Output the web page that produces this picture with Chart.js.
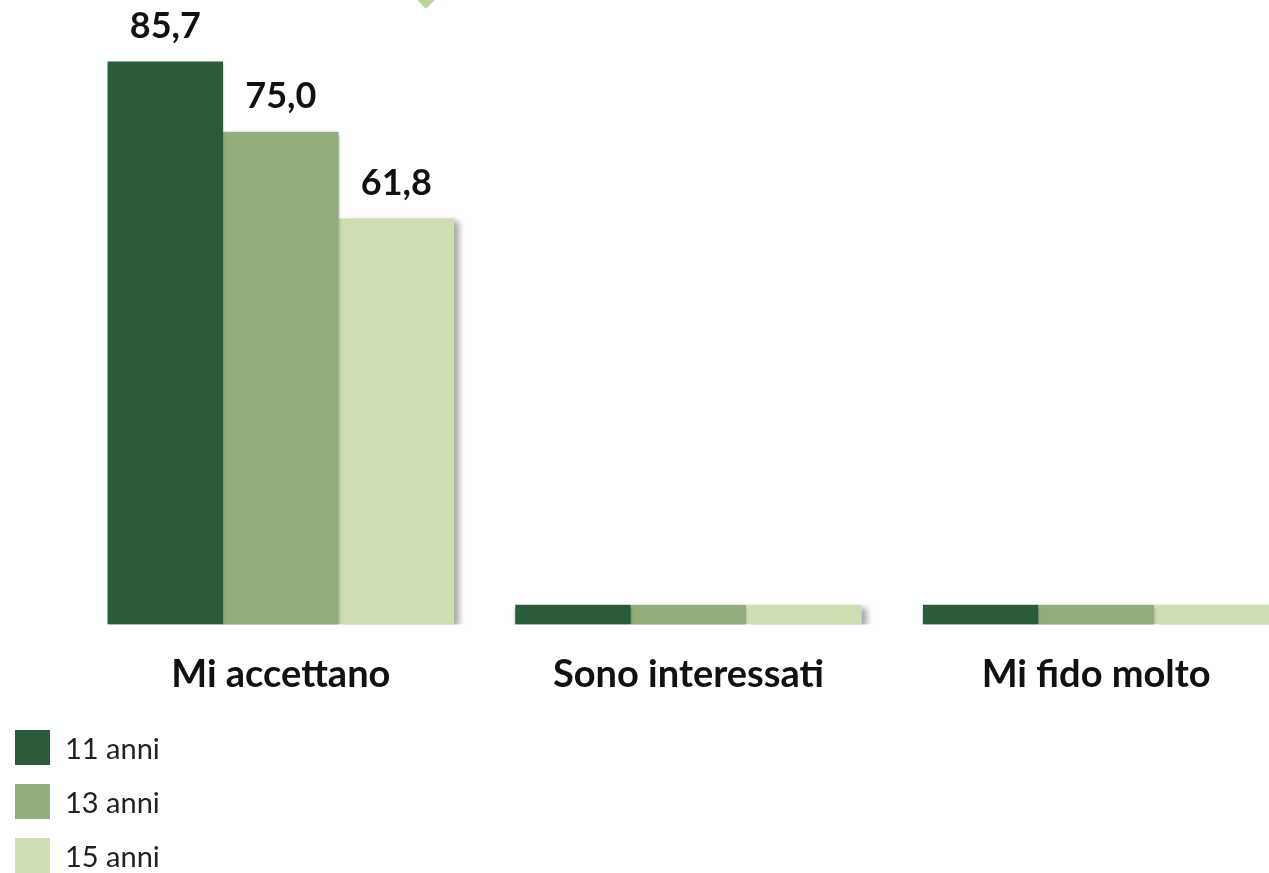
<!DOCTYPE html>
<html>
<head>
<meta charset="utf-8">
<script src="https://cdn.jsdelivr.net/npm/chart.js@4/dist/chart.umd.min.js"></script>
<style>
  html, body { margin: 0; padding: 0; background: #fff; overflow: hidden; width: 1269px; height: 873px; }
  #wrap { position: absolute; left: 0; top: 0; width: 1300px; height: 734px; }
  #deco { position: absolute; left: 417px; top: -13px; width: 18px; height: 18px; background: #b5d89c; transform: rotate(45deg); }
  #legend { position: absolute; left: 15px; top: 730px; font-family: Lato, "Open Sans", sans-serif; font-size: 29px; color: #222; }
  .item { display: flex; align-items: center; height: 35px; margin-bottom: 19px; }
  .sw { width: 35px; height: 35px; margin-right: 15px; }
</style>
</head>
<body>
<div id="wrap"><canvas id="c" width="1300" height="734"></canvas></div>
<div id="deco"></div>
<div id="legend"></div>
<script>
const categories = ["Mi accettano", "Sono interessati", "Mi fido molto"];
const seriesNames = ["11 anni", "13 anni", "15 anni"];
const age11 = [85.7, 3.0, 3.0];
const age13 = [75.0, 3.0, 3.0];
const age15 = [61.8, 3.0, 3.0];
const colors = ["#2a5b3a", "#93ad7a", "#cedeb0"];
const seriesValues = [age11, age13, age15];

const shadowPlugin = {
  id: 'shadow',
  beforeDatasetDraw(chart, args) {
    const ctx = chart.ctx;
    ctx.save();
    ctx.shadowColor = 'rgba(0,0,0,0.35)';
    if (args.index === seriesValues.length - 1) {
      ctx.shadowOffsetX = 5; ctx.shadowOffsetY = 3; ctx.shadowBlur = 6;
    } else {
      ctx.shadowOffsetX = 0; ctx.shadowOffsetY = 3; ctx.shadowBlur = 3;
    }
  },
  afterDatasetDraw(chart) { chart.ctx.restore(); }
};

const labelPlugin = {
  id: 'valLabels',
  afterDatasetsDraw(chart) {
    const ctx = chart.ctx;
    ctx.save();
    ctx.font = 'bold 36px Lato, "Open Sans", sans-serif';
    ctx.fillStyle = '#111';
    ctx.textAlign = 'center';
    ctx.textBaseline = 'middle';
    chart.data.datasets.forEach((ds, i) => {
      chart.getDatasetMeta(i).data.forEach((bar, j) => {
        const v = ds.data[j];
        if (v < 10) return;
        ctx.fillText(v.toFixed(1).replace('.', ','), bar.x, bar.y - 35);
      });
    });
    ctx.restore();
  }
};

new Chart(document.getElementById('c'), {
  type: 'bar',
  data: {
    labels: categories,
    datasets: seriesNames.map((n, i) => ({
      label: n,
      data: seriesValues[i],
      backgroundColor: colors[i],
      borderWidth: 0,
      categoryPercentage: 0.85,
      barPercentage: 1.0
    }))
  },
  options: {
    responsive: false,
    animation: false,
    events: [],
    layout: { padding: { left: 77, right: 0, top: 20, bottom: 8 } },
    plugins: { legend: { display: false }, tooltip: { enabled: false } },
    scales: {
      x: {
        grid: { display: false, drawTicks: false },
        border: { display: false },
        ticks: { color: '#111', padding: 28, font: { family: 'Lato, "Open Sans", sans-serif', size: 38, weight: 'bold' } }
      },
      y: { display: false, min: 0, max: 92 }
    }
  },
  plugins: [shadowPlugin, labelPlugin]
});

const leg = document.getElementById('legend');
seriesNames.forEach((n, i) => {
  const d = document.createElement('div');
  d.className = 'item';
  d.innerHTML = '<div class="sw" style="background:' + colors[i] + '"></div><span>' + n + '</span>';
  leg.appendChild(d);
});
</script>
</body>
</html>
